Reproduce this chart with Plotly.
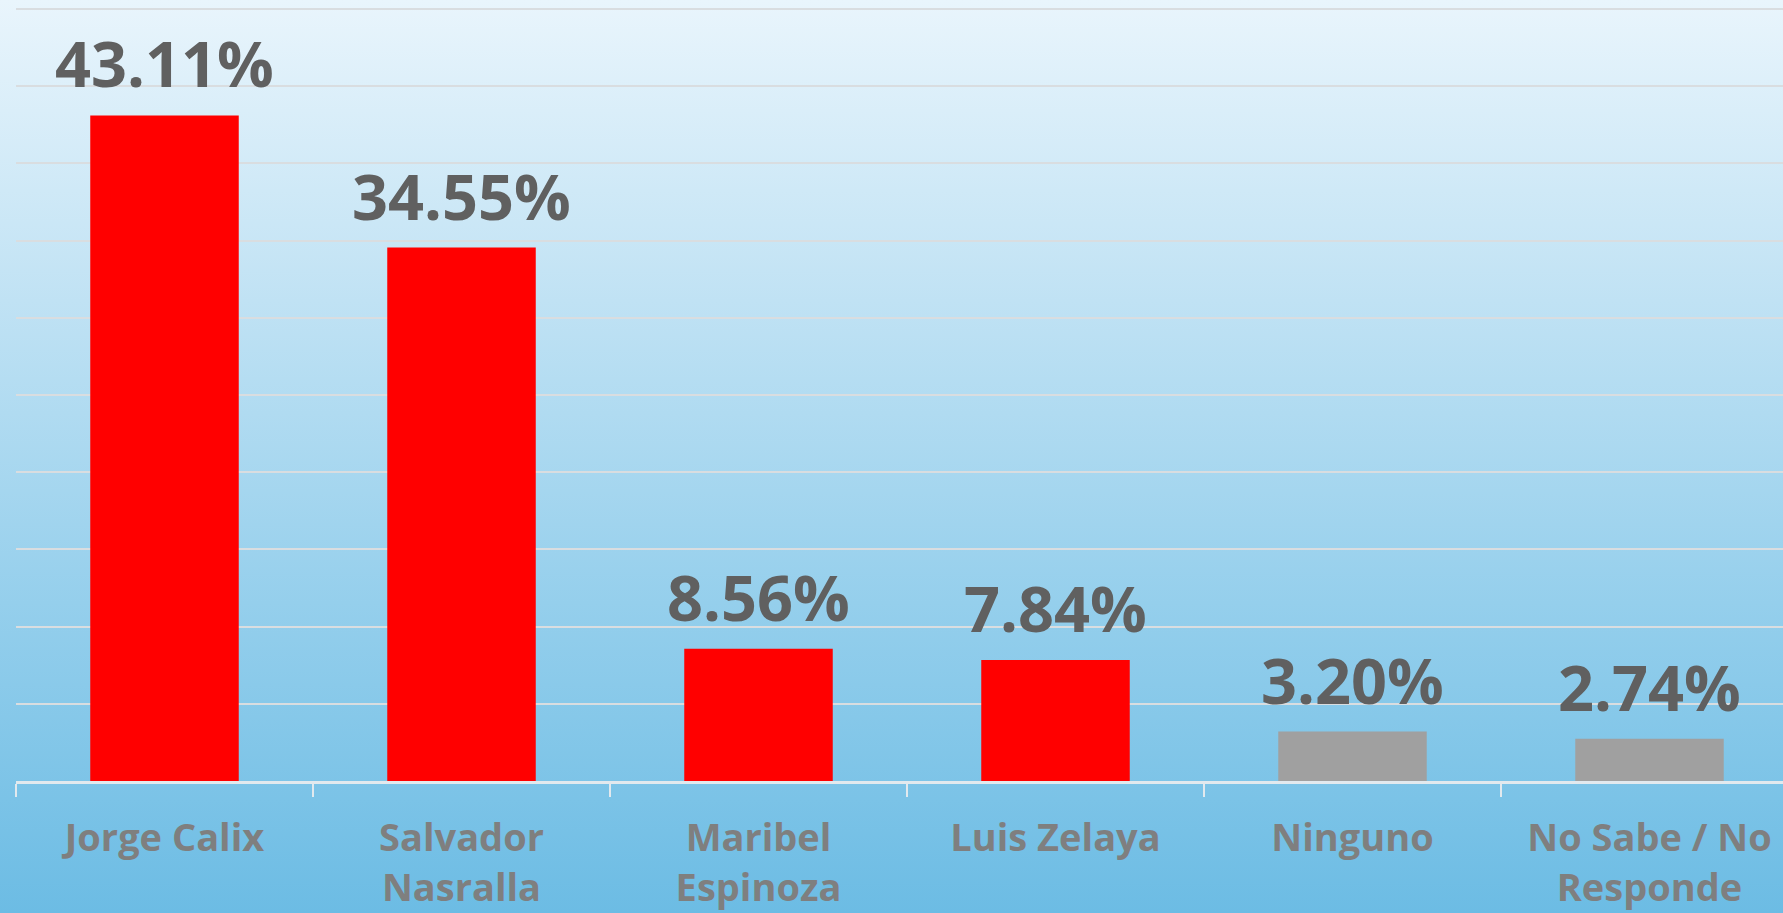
import base64
import plotly.graph_objects as go

categories = ["Jorge Calix", "Salvador<br>Nasralla", "Maribel<br>Espinoza", "Luis Zelaya", "Ninguno", "No Sabe / No<br>Responde"]
values = [43.11, 34.55, 8.56, 7.84, 3.20, 2.74]
labels = ["43.11%", "34.55%", "8.56%", "7.84%", "3.20%", "2.74%"]
bar_colors = ["#ff0000", "#ff0000", "#ff0000", "#ff0000", "#a0a0a0", "#a0a0a0"]

W, H = 1783, 913
ML, MR, MT, MB = 16, 0, 6, 132

svg = f'''<svg xmlns="http://www.w3.org/2000/svg" width="{W}" height="{H}" preserveAspectRatio="none">
<defs><linearGradient id="g" x1="0" y1="0" x2="0" y2="1">
<stop offset="0" stop-color="#e9f5fc"/>
<stop offset="0.33" stop-color="#c0e2f4"/>
<stop offset="0.66" stop-color="#95cfec"/>
<stop offset="1" stop-color="#6cbce4"/>
</linearGradient></defs>
<rect x="0" y="0" width="{W}" height="{H}" fill="url(#g)"/></svg>'''
src = "data:image/svg+xml;base64," + base64.b64encode(svg.encode()).decode()

pw = W - ML - MR
ph = H - MT - MB

fig = go.Figure()
fig.add_trace(go.Bar(
    x=categories, y=values, width=0.5,
    marker=dict(color=bar_colors, line=dict(width=0)),
    hoverinfo="skip",
))

for c, v, t in zip(categories, values, labels):
    fig.add_annotation(x=c, y=v, text=f"<b>{t}</b>", showarrow=False,
                       yanchor="bottom", yshift=8,
                       font=dict(family="Open Sans", size=63, color="#606060"))

fig.add_layout_image(dict(
    source=src, xref="paper", yref="paper",
    x=-ML / pw, y=1 + MT / ph, sizex=W / pw, sizey=H / ph,
    xanchor="left", yanchor="top", sizing="stretch", layer="below", opacity=1,
))

fig.update_layout(
    width=W, height=H,
    margin=dict(l=ML, r=MR, t=MT, b=MB, pad=0),
    paper_bgcolor="#8fcdec", plot_bgcolor="rgba(0,0,0,0)",
    showlegend=False, bargap=0.5,
    font=dict(family="Open Sans"),
    xaxis=dict(
        type="category", range=[-0.5, 5.5 - 15 / 297],
        tickson="boundaries", ticks="outside", ticklen=13, tickwidth=2, tickcolor="#e2e9ee",
        showline=True, linecolor="#e2e9ee", linewidth=2.5,
        showgrid=False, zeroline=False,
        tickfont=dict(family="Open Sans", size=38, color="#7f7f7f", weight="bold"),
        ticklabelstandoff=22,
    ),
    yaxis=dict(
        range=[0, 50.2], tickvals=[0, 5, 10, 15, 20, 25, 30, 35, 40, 45, 50],
        showticklabels=False, ticks="",
        showgrid=True, gridcolor="#d9dde0", gridwidth=2,
        zeroline=False, showline=False,
    ),
)

fig.write_html("out.html", config={"displayModeBar": False},
               post_script="document.body.style.margin='0';document.body.style.overflow='hidden';")
